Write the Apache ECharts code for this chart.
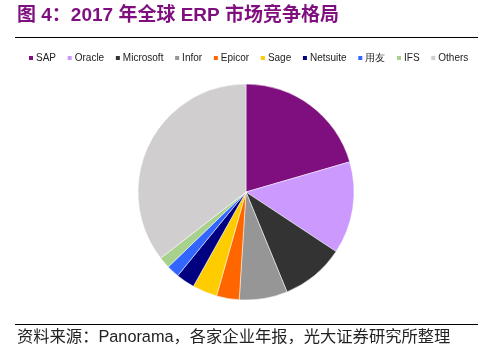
<!DOCTYPE html>
<html><head><meta charset="utf-8">
<script src="https://cdn.jsdelivr.net/npm/echarts@6/dist/echarts.min.js"></script>
<style>html,body{margin:0;padding:0;background:#fff}#c{width:496px;height:354px}</style>
</head><body><div id="c"></div>
<script>
const categories = ['SAP','Oracle','Microsoft','Infor','Epicor','Sage','Netsuite','用友','IFS','Others'];
const shares = [20.5, 13.8, 9.5, 7.2, 3.4, 3.7, 2.8, 1.9, 1.7, 35.5];
const colors = ['#7F0F7E','#CC99FF','#333333','#969696','#FF6600','#FFCC00','#000080','#3366FF','#A9D18E','#D0CECE'];
const titleText = '图 4：2017 年全球 ERP 市场竞争格局';
const sourceText = '资料来源：Panorama，各家企业年报，光大证券研究所整理';

const chart = echarts.init(document.getElementById('c'), null, {renderer:'canvas'});
chart.setOption({
  animation:false,
  color: colors,
  graphic:[
    {type:'text', left:17, top:6, style:{text:titleText, font:'bold 19px "Liberation Sans", "Noto Sans CJK SC", sans-serif', fill:'#7F0F7E'}},
    {type:'line', shape:{x1:15,y1:37.5,x2:478,y2:37.5}, style:{stroke:'#000',lineWidth:1}},
    {type:'line', shape:{x1:15,y1:324.5,x2:478,y2:324.5}, style:{stroke:'#000',lineWidth:1}},
    {type:'text', left:17, top:329, style:{text:sourceText, font:'16.3px "Liberation Sans", "Noto Sans CJK SC", sans-serif', fill:'#222'}}
  ],
  legend:{
    data: categories, left:27, top:53, padding:0, icon:'rect', itemWidth:6, itemHeight:6, itemGap:9.7,
    textStyle:{fontSize:10, fontFamily:'"Liberation Sans", Arial, sans-serif', color:'#222', padding:[0,0,0,-3]}
  },
  series:[{
    type:'pie', center:[246,192], radius:[0,108], startAngle:90, clockwise:true,
    label:{show:false}, labelLine:{show:false},
    itemStyle:{borderColor:'#fff', borderWidth:0.5},
    emphasis:{disabled:true},
    data: categories.map((n,i)=>({name:n, value:shares[i]}))
  }]
});
</script></body></html>
